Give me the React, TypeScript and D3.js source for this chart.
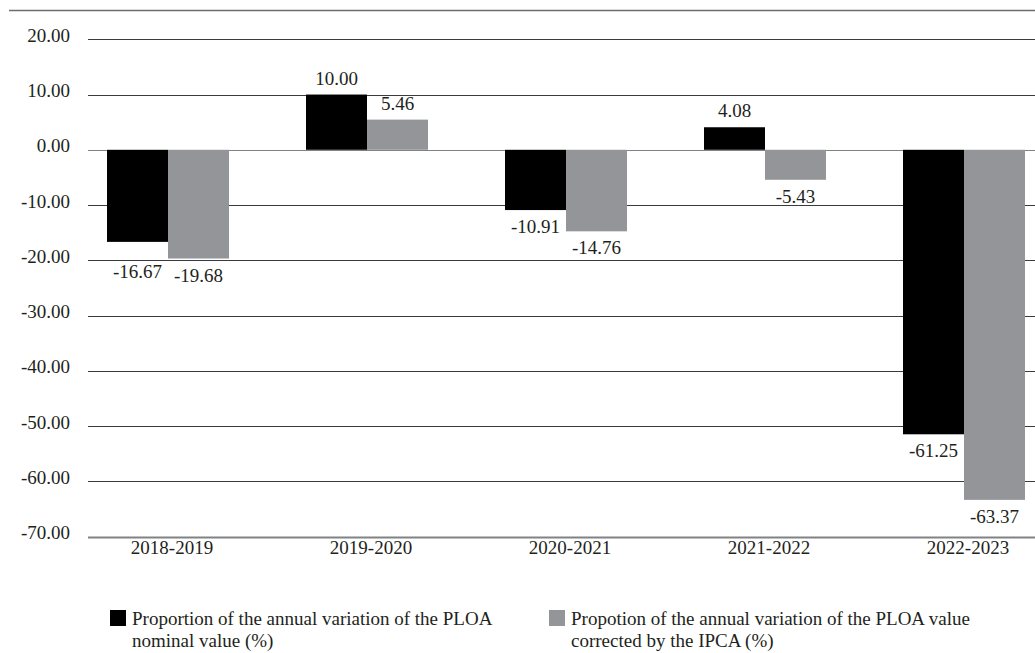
import { useEffect, useRef } from "react";
import * as d3 from "d3";

const periods = ["2018-2019", "2019-2020", "2020-2021", "2021-2022", "2022-2023"];
// bar lengths as drawn in the source figure
const nominalValues = [-16.67, 10.0, -10.91, 4.08, -51.5];
const correctedValues = [-19.68, 5.46, -14.76, -5.43, -63.37];
// printed data labels
const nominalLabels = ["-16.67", "10.00", "-10.91", "4.08", "-61.25"];
const correctedLabels = ["-19.68", "5.46", "-14.76", "-5.43", "-63.37"];
const yTicks = [20, 10, 0, -10, -20, -30, -40, -50, -60, -70];
const seriesNames = [
  ["Proportion of the annual variation of the PLOA", "nominal value (%)"],
  ["Propotion of the annual variation of the PLOA value", "corrected by the IPCA (%)"],
];
const seriesColors = ["#000000", "#939598"];

const W = 1035;
const H = 653;
const FONT = "'Liberation Serif', 'Times New Roman', serif";
const FS = 19;

const App = () => {
  const ref = useRef<SVGSVGElement>(null);

  useEffect(() => {
    if (!ref.current) return;
    const svg = d3.select(ref.current);
    svg.selectAll("*").remove();

    const y = d3.scaleLinear().domain([-70, 20]).range([536.5, 39.3]);
    const x0 = d3.scaleBand().domain(periods).range([68.5, 1063.5]).padding(0);
    const barW = 61;
    const x1 = d3
      .scaleBand()
      .domain(["0", "1"])
      .range([x0.bandwidth() / 2 - barW, x0.bandwidth() / 2 + barW])
      .padding(0);

    // top rule
    svg
      .append("line")
      .attr("x1", 9)
      .attr("x2", W)
      .attr("y1", 10.5)
      .attr("y2", 10.5)
      .attr("stroke", "#6d6e71")
      .attr("stroke-width", 1.5);

    // gridlines
    svg
      .append("g")
      .selectAll("line")
      .data(yTicks)
      .enter()
      .append("line")
      .attr("x1", 88)
      .attr("x2", W)
      .attr("y1", (d) => Math.round(y(d)) + 0.5)
      .attr("y2", (d) => Math.round(y(d)) + 0.5)
      .attr("stroke", (d) => (d === 0 || d === -70 ? "#808285" : "#3a3a3a"))
      .attr("stroke-width", (d) => (d === -70 ? 2 : 1.2));

    // y tick labels
    svg
      .append("g")
      .selectAll("text")
      .data(yTicks)
      .enter()
      .append("text")
      .attr("x", 70)
      .attr("y", (d) => y(d) + 2.5)
      .attr("text-anchor", "end")
      .attr("font-family", FONT)
      .attr("font-size", FS)
      .attr("fill", "#231f20")
      .text((d) => d.toFixed(2));

    const series = [nominalValues, correctedValues];
    const labels = [nominalLabels, correctedLabels];

    // place a label under a negative bar, pushing it below a gridline it would sit on
    const belowY = (d: number) => {
      let base = y(d) + 23;
      const top = base - 13;
      const hit = yTicks.map((t) => y(t)).find((gy) => gy > top && gy < base + 2);
      if (hit !== undefined) base = hit + 18;
      return base;
    };

    series.forEach((vals, si) => {
      const g = svg.append("g");
      g.selectAll("rect")
        .data(vals)
        .enter()
        .append("rect")
        .attr("x", (_, i) => x0(periods[i])! + x1(String(si))!)
        .attr("width", x1.bandwidth())
        .attr("y", (d) => y(Math.max(0, d)))
        .attr("height", (d) => Math.abs(y(d) - y(0)))
        .attr("fill", seriesColors[si]);

      g.selectAll("text")
        .data(vals)
        .enter()
        .append("text")
        .attr("x", (_, i) => x0(periods[i])! + x1(String(si))! + x1.bandwidth() / 2)
        .attr("y", (d) => (d >= 0 ? y(d) - 10 : belowY(d)))
        .attr("text-anchor", "middle")
        .attr("font-family", FONT)
        .attr("font-size", FS)
        .attr("fill", "#231f20")
        .text((_, i) => labels[si][i]);
    });

    // x labels
    svg
      .append("g")
      .selectAll("text")
      .data(periods)
      .enter()
      .append("text")
      .attr("x", (d) => x0(d)! + x0.bandwidth() / 2 + 4)
      .attr("y", y(-70) + 17)
      .attr("text-anchor", "middle")
      .attr("font-family", FONT)
      .attr("font-size", FS)
      .attr("fill", "#231f20")
      .text((d) => d);

    // legend
    const legendX = [110, 549];
    seriesNames.forEach((lines, si) => {
      const lg = svg.append("g").attr("transform", `translate(${legendX[si]},610)`);
      lg.append("rect").attr("width", 16).attr("height", 16).attr("fill", seriesColors[si]);
      lines.forEach((t, li) => {
        lg.append("text")
          .attr("x", 22)
          .attr("y", 15 + li * 22)
          .attr("font-family", FONT)
          .attr("font-size", FS)
          .attr("fill", "#231f20")
          .text(t);
      });
    });
  }, []);

  return (
    <svg
      ref={ref}
      width={W}
      height={H}
      style={{ position: "absolute", left: 0, top: 0, background: "#fff" }}
    />
  );
};

export default App;
